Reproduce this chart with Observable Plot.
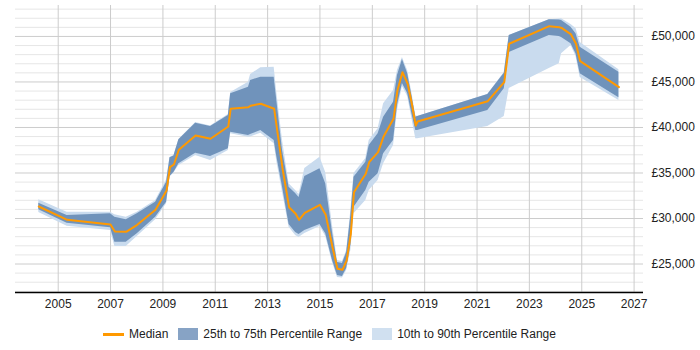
<!DOCTYPE html>
<html>
<head>
<meta charset="utf-8">
<script src="https://cdn.jsdelivr.net/npm/d3@7"></script>
<script src="https://cdn.jsdelivr.net/npm/@observablehq/plot@0.6"></script>
<style>
  html, body { margin: 0; padding: 0; background: #fff; }
  #wrap { position: relative; width: 700px; height: 350px; font-family: "Liberation Sans", Arial, sans-serif; }
  #legend { position: absolute; top: 324px; left: 0; width: 700px; height: 20px; display: flex; align-items: center;
            padding-left: 103px; box-sizing: border-box; font-size: 12px; color: #222; }
  .item { display: flex; align-items: center; margin-right: 10px; }
  .line { width: 21px; height: 3px; background: #ff9900; margin-right: 5px; }
  .sw { width: 20px; height: 12px; margin-right: 5px; }
</style>
</head>
<body>
<div id="wrap">
  <div id="chart"></div>
  <div id="legend">
    <div class="item"><div class="line"></div><span>Median</span></div>
    <div class="item"><div class="sw" style="background:#87a3c5"></div><span>25th to 75th Percentile Range</span></div>
    <div class="item"><div class="sw" style="background:#d0e0f0"></div><span>10th to 90th Percentile Range</span></div>
  </div>
</div>
<script>
const years = [2004.26, 2005.34, 2007.00, 2007.165, 2007.60, 2008.02, 2008.72, 2009.14, 2009.27, 2009.42,
  2009.61, 2010.25, 2010.82, 2011.50, 2011.59, 2012.27, 2012.35, 2012.74, 2013.25, 2013.35,
  2013.57, 2013.82, 2014.07, 2014.20, 2014.42, 2015.00, 2015.22, 2015.48, 2015.67, 2015.86,
  2016.02, 2016.18, 2016.30, 2016.75, 2016.88, 2017.22, 2017.43, 2017.81, 2017.96, 2018.15,
  2018.35, 2018.51, 2018.66, 2018.73, 2021.41, 2022.04, 2022.23, 2023.76, 2024.14, 2024.23,
  2024.59, 2024.78, 2024.94, 2026.42];
const p10 = [30659, 29153, 28681, 26923, 26923, 28022, 29857, 31615, 34560, 35000,
  35824, 36923, 36374, 37473, 39308, 38934, 38956, 39374, 38209, 36264,
  32857, 29044, 28132, 27912, 28352, 29121, 28022, 25165, 23516, 23461,
  24286, 26484, 30516, 31978, 33077, 34176, 36011, 38022, 41868, 44505,
  43407, 40989, 38758, 38758, 40110, 41208, 44286, 46483, 47000, 48099,
  49011, 47802, 45495, 42967];
const p25 = [30955, 29483, 28978, 27395, 27395, 28319, 30143, 31791, 34615, 35055,
  36011, 37176, 36813, 37659, 39483, 39121, 39231, 39670, 38571, 36813,
  33439, 29341, 28462, 28242, 28681, 29341, 28319, 25385, 23736, 23626,
  24505, 27033, 31242, 33077, 33989, 34912, 37110, 38571, 42418, 44835,
  43736, 41538, 39670, 39670, 41868, 44253, 48242, 50110, 50000, 49890,
  49198, 48099, 45901, 43264];
const median = [31318, 29857, 29341, 28571, 28538, 29308, 30956, 33077, 35637, 35934,
  37549, 39121, 38758, 40110, 42055, 42231, 42385, 42604, 42055, 40000,
  35495, 31242, 30516, 29857, 30626, 31505, 30406, 26846, 24473, 24363,
  25385, 28319, 32890, 34912, 36187, 37286, 39011, 40956, 44066, 46077,
  44802, 42604, 40220, 40659, 42890, 44978, 49198, 51132, 51022, 50934,
  50220, 49198, 47286, 44428];
const p75 = [31680, 30330, 30516, 30143, 29857, 30516, 31791, 33989, 36670, 36868,
  38648, 40473, 40110, 41319, 43703, 44428, 45165, 45527, 45527, 42967,
  37473, 33439, 32747, 32307, 34615, 35462, 33813, 28462, 25165, 25055,
  26264, 30330, 34538, 36187, 38022, 39308, 41132, 42780, 45714, 47473,
  45934, 43516, 41132, 41209, 43626, 45967, 50110, 51835, 51813, 51758,
  51022, 50297, 48824, 46077];
const p90 = [32055, 30692, 30692, 30406, 30143, 30692, 31978, 34253, 36703, 36923,
  38681, 40549, 40165, 41429, 43846, 44978, 45824, 46560, 46626, 43846,
  38571, 33813, 33077, 32637, 35494, 36736, 35055, 29231, 25385, 25275,
  26484, 30879, 34945, 36593, 38571, 39857, 42604, 44066, 46264, 47692,
  46264, 43846, 41319, 41209, 43626, 46044, 50110, 51835, 51923, 51945,
  51319, 50879, 49341, 46341];

const yearTicks = [2005, 2007, 2009, 2011, 2013, 2015, 2017, 2019, 2021, 2023, 2025, 2027];
const yMajor = [25000, 30000, 35000, 40000, 45000, 50000];
const yMinor = d3.range(22000, 53001, 1000).filter(v => v % 5000 !== 0);

function toDate(yd) {
  const y = Math.floor(yd);
  const start = Date.UTC(y, 0, 1), end = Date.UTC(y + 1, 0, 1);
  return new Date(start + (yd - y) * (end - start));
}

const rows = years.map((y, i) => ({date: toDate(y), p10: p10[i], p25: p25[i], median: median[i], p75: p75[i], p90: p90[i]}));
const xTickDates = yearTicks.map(y => toDate(y));

const chart = Plot.plot({
  width: 700,
  height: 320,
  marginLeft: 15,
  marginRight: 57,
  marginTop: 5,
  marginBottom: 28,
  style: {fontFamily: '"Liberation Sans", Arial, sans-serif', fontSize: "12px", color: "#222", background: "#fff"},
  x: {type: "utc", domain: [toDate(2003.37), toDate(2027.36)]},
  y: {domain: [21870, 53400]},
  marks: [
    Plot.ruleY(yMinor, {stroke: "#e6e6e6", strokeWidth: 1}),
    Plot.ruleY(yMajor, {stroke: "#cccccc", strokeWidth: 1}),
    Plot.ruleX(xTickDates, {stroke: "#cccccc", strokeWidth: 1}),
    Plot.areaY(rows, {x: "date", y1: "p10", y2: "p90", fill: "#c9dbee"}),
    Plot.areaY(rows, {x: "date", y1: "p25", y2: "p75", fill: "#7093bb"}),
    Plot.lineY(rows, {x: "date", y: "median", stroke: "#ff9900", strokeWidth: 2}),
    Plot.axisX({ticks: xTickDates, tickSize: 0, tickPadding: 7, tickFormat: "%Y", label: null}),
    Plot.axisY({anchor: "right", ticks: yMajor, tickSize: 0, tickPadding: 8,
      tickFormat: d => "£" + d3.format(",")(d), label: null}),
    Plot.ruleY([21870], {stroke: "#000", strokeWidth: 1.5})
  ]
});
document.getElementById("chart").appendChild(chart);
</script>
</body>
</html>
